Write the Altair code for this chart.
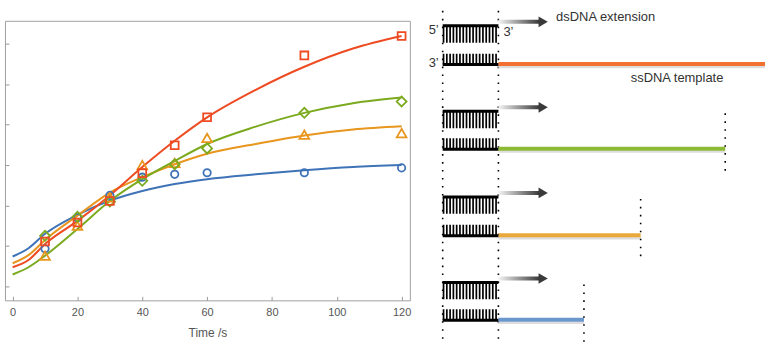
import altair as alt
import pandas as pd

# ---------------- kinetics panel data ----------------
t_obs = [10, 20, 30, 40, 50, 60, 90, 120]
red_obs = [1.11, 1.58, 2.11, 2.80, 3.49, 4.18, 5.71, 6.19]
green_obs = [1.25, 1.72, 2.10, 2.61, 3.02, 3.41, 4.29, 4.57]
orange_obs = [0.76, 1.50, 2.20, 3.00, 3.05, 3.67, 3.75, 3.79]
blue_obs = [0.93, 1.70, 2.25, 2.70, 2.77, 2.81, 2.81, 2.93]

t_fit = [0, 5, 10, 20, 30, 40, 50, 60, 75, 90, 105, 120]
red_fit = [0.475, 0.66, 1.05, 1.62, 2.25, 2.95, 3.60, 4.18, 4.86, 5.43, 5.88, 6.19]
green_fit = [0.295, 0.48, 0.76, 1.42, 2.11, 2.65, 3.10, 3.52, 3.95, 4.29, 4.53, 4.67]
orange_fit = [0.573, 0.78, 1.15, 1.75, 2.32, 2.70, 3.02, 3.28, 3.52, 3.73, 3.88, 3.96]
blue_fit = [0.74, 0.95, 1.30, 1.77, 2.12, 2.36, 2.53, 2.65, 2.77, 2.87, 2.95, 3.00]

x_ticks = [0, 20, 40, 60, 80, 100, 120]
y_ticks = [0, 1, 2, 3, 4, 5, 6]

series = ["blue", "orange", "green", "red"]
obs = {"red": red_obs, "green": green_obs, "orange": orange_obs, "blue": blue_obs}
fits = {"red": red_fit, "green": green_fit, "orange": orange_fit, "blue": blue_fit}
line_color = {"red": "#EE4B22", "green": "#7BAA1F", "orange": "#E8961E", "blue": "#3F73B7"}
shape = {"red": "square", "green": "diamond", "orange": "triangle-up", "blue": "circle"}
msize = {"red": 62, "green": 100, "orange": 95, "blue": 55}

FONT = "Liberation Sans"

x_enc = alt.X(
    "t:Q",
    scale=alt.Scale(domain=[-2.36, 122.55], nice=False, zero=False),
    axis=alt.Axis(
        values=x_ticks, title="Time /s", grid=False, domain=False,
        tickSize=4, offset=-4, tickColor="#999999", labelPadding=6,
        labelFontSize=11, labelColor="#555555", labelFont=FONT,
        titleFontSize=12, titleFontWeight="normal", titleColor="#555555",
        titleFont=FONT, titlePadding=10,
    ),
)
y_enc = alt.Y(
    "v:Q",
    scale=alt.Scale(domain=[-0.344, 6.565], nice=False, zero=False),
    axis=alt.Axis(
        values=y_ticks, labels=False, title="", grid=False, domain=False,
        tickSize=4, offset=-4, tickColor="#999999",
    ),
)

layers = []
for s in series:
    df = pd.DataFrame({"t": t_fit, "v": fits[s]})
    layers.append(
        alt.Chart(df).mark_line(strokeWidth=2, interpolate="monotone", color=line_color[s])
        .encode(x=x_enc, y=y_enc)
    )
for s in series:
    df = pd.DataFrame({"t": t_obs, "v": obs[s]})
    layers.append(
        alt.Chart(df).mark_point(filled=False, strokeWidth=1.8, shape=shape[s],
                                 size=msize[s], color=line_color[s], opacity=1)
        .encode(x=x_enc, y=y_enc)
    )

left = alt.layer(*layers).properties(
    width=407, height=281,
    view=alt.ViewBackground(stroke="#A0A0A0", strokeWidth=1),
)

# ---------------- schematic panel data ----------------
row_top = [24, 110, 196, 282]          # top (5'->3') primer strand
row_bottom = [63, 148, 235, 320]       # template strand
template_end = [768, 728, 643, 586]
template_color = ["#F27131", "#8DBA34", "#EAA83A", "#6C97CC"]
primer_left = 444
primer_right = 500

rows = pd.DataFrame({
    "top": row_top, "bottom": row_bottom, "end": template_end, "col": template_color,
})
rows["top_teeth"] = rows["top"] + 8.5
rows["bot_teeth"] = rows["bottom"] - 5.5
rows["tmpl_y"] = rows["bottom"] - 0.5
rows["shadow_y"] = rows["bottom"] + 2.5
rows["arrow_y"] = rows["top"] - 4
rows["arrow_y1"] = rows["top"] - 6
rows["arrow_y2"] = rows["top"] - 2
rows["dot_y1"] = rows["top"] + 2
rows["dot_y2"] = rows["bottom"] + 22
rows["x0"] = primer_left
rows["x1"] = primer_right
rows["ax2"] = 541
rows["ahead"] = 545

def X(f):
    return alt.X(f"{f}:Q", scale=alt.Scale(domain=[420, 768], nice=False, zero=False), axis=None)

def X2(f):
    return alt.X2(f"{f}:Q")

def Y(f):
    return alt.Y(f"{f}:Q", scale=alt.Scale(domain=[300, 19], nice=False, zero=False), axis=None)

def Y2(f):
    return alt.Y2(f"{f}:Q")

base = alt.Chart(rows)

shadow = base.mark_rule(strokeWidth=2.5, color="#DDDDDD").encode(
    x=X("x1"), x2=X2("end"), y=Y("shadow_y"))
template = base.mark_rule(strokeWidth=4).encode(
    x=X("x1"), x2=X2("end"), y=Y("tmpl_y"),
    color=alt.Color("col:N", scale=None))
top_line = base.mark_rule(strokeWidth=3, color="black").encode(
    x=X("x0"), x2=X2("x1"), y=Y("top"))
top_teeth = base.mark_rule(strokeWidth=17, color="black", strokeDash=[1.7, 1.6]).encode(
    x=X("x0"), x2=X2("x1"), y=Y("top_teeth"))
bot_line = base.mark_rule(strokeWidth=3, color="black").encode(
    x=X("x0"), x2=X2("x1"), y=Y("bottom"))
bot_teeth = base.mark_rule(strokeWidth=11, color="black", strokeDash=[1.7, 1.6]).encode(
    x=X("x0"), x2=X2("x1"), y=Y("bot_teeth"))
right_dots = base.transform_filter("datum.end < 760").mark_rule(
    strokeWidth=1.6, color="black", strokeDash=[1.6, 6.4]).encode(
    x=X("end"), y=Y("dot_y1"), y2=Y2("dot_y2"))

grad = alt.Gradient(
    gradient="linear",
    stops=[alt.GradientStop(color="#F4F4F4", offset=0), alt.GradientStop(color="#3A3A3A", offset=1)],
    x1=0, x2=1, y1=0, y2=0,
)
arrow_body = base.mark_rect(color=grad).encode(
    x=X("x1"), x2=X2("ax2"), y=Y("arrow_y1"), y2=Y2("arrow_y2"))
arrow_head = base.mark_point(shape="triangle-right", filled=True, size=115,
                             color="#3A3A3A", opacity=1).encode(
    x=X("ahead"), y=Y("arrow_y"))

guides = pd.DataFrame({"x": [primer_left, primer_right], "y1": [9, 9], "y2": [345, 345]})
guide_dots = alt.Chart(guides).mark_rule(
    strokeWidth=1.6, color="black", strokeDash=[1.6, 6.4]).encode(
    x=X("x"), y=Y("y1"), y2=Y2("y2"))

labels = pd.DataFrame({
    "x": [440, 505, 440, 558, 633],
    "y": [28, 30, 61, 15, 77],
    "txt": ["5\u2019", "3\u2019", "3\u2019", "dsDNA extension", "ssDNA template"],
    "al": ["right", "left", "right", "left", "left"],
})
def label_layer(df, align):
    return alt.Chart(df).mark_text(
        align=align, baseline="middle", fontSize=13, font=FONT, color="#333333"
    ).encode(x=X("x"), y=Y("y"), text="txt:N")

lab_r = label_layer(labels[labels.al == "right"], "right")
lab_l = label_layer(labels[labels.al == "left"], "left")

right = alt.layer(
    guide_dots, shadow, template, right_dots, top_teeth, top_line, bot_teeth, bot_line,
    arrow_body, arrow_head, lab_r, lab_l,
).properties(
    width=348, height=281,
    view=alt.ViewBackground(stroke="transparent"),
)

chart = alt.hconcat(left, right, spacing=9, bounds="flush").properties(
    padding={"left": 4, "top": 8, "right": 0, "bottom": 4},
    background="white",
).configure_view(strokeWidth=1)

chart.save("out.html", embed_options={"renderer": "svg", "actions": False})
